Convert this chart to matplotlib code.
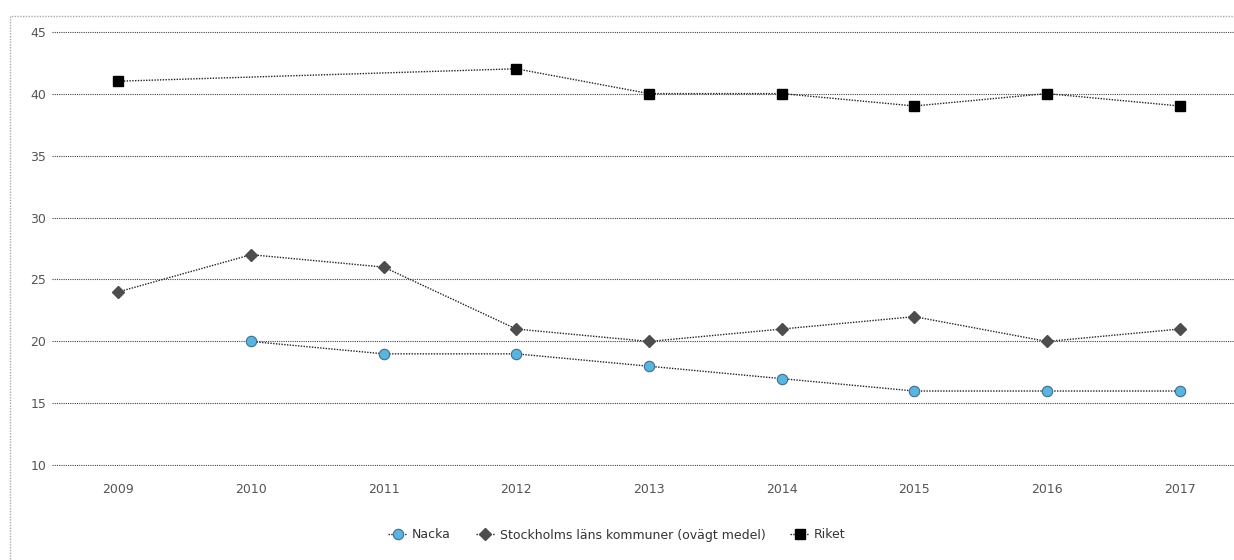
import matplotlib.pyplot as plt
from matplotlib.patches import Rectangle
import numpy as np

years = ["2009", "2010", "2011", "2012", "2013", "2014", "2015", "2016", "2017"]
nacka = [None, 20, 19, 19, 18, 17, 16, 16, 16]
stockholm = [24, 27, 26, 21, 20, 21, 22, 20, 21]
riket = [41, None, None, 42, 40, 40, 39, 40, 39]
yticks = [10, 15, 20, 25, 30, 35, 40, 45]

plt.rcParams['font.family'] = ['DejaVu Sans']

fig = plt.figure(figsize=(12.34, 5.6), dpi=100)
ax = fig.add_axes([52 / 1234, 1 - 466 / 560, 1194 / 1234, 435 / 560])

x = np.arange(len(years))


def plot_series(vals, **kw):
    xs = [i for i, v in zip(x, vals) if v is not None]
    ys = [v for v in vals if v is not None]
    return ax.plot(xs, ys, linestyle=(0, (1, 1)), color="#222222", linewidth=1, **kw)[0]


l1 = plot_series(nacka, marker="o", markersize=7.5, markerfacecolor="#5ab4e0",
                 markeredgecolor="#3d6f8c", markeredgewidth=0.8, label="Nacka")
l2 = plot_series(stockholm, marker="D", markersize=6, markerfacecolor="#4d4d4d",
                 markeredgecolor="#4d4d4d", label="Stockholms läns kommuner (ovägt medel)")
l3 = plot_series(riket, marker="s", markersize=7.5, markerfacecolor="#000000",
                 markeredgecolor="#000000", label="Riket")

ax.set_xlim(-0.5, 8.5)
ax.set_ylim(9.95, 45.05)
ax.set_yticks(yticks)
ax.set_xticks(x)
ax.set_xticklabels(years)
ax.yaxis.grid(True, linestyle=(0, (1, 1)), color="#444444", linewidth=0.8)
ax.set_axisbelow(True)
for s in ax.spines.values():
    s.set_visible(False)
ax.tick_params(length=0, labelsize=9, colors="#555555")
ax.tick_params(axis="x", pad=12)
ax.tick_params(axis="y", pad=4)

fig.legend(handles=[l1, l2, l3], loc="center", bbox_to_anchor=(0.5, 1 - 535 / 560),
           ncol=3, frameon=False, fontsize=9, handlelength=1.5, columnspacing=2.0,
           handletextpad=0.4, labelcolor="#333333")

fig.patches.append(Rectangle((10 / 1234, -0.1), 1.2, 1.1 - 16 / 560,
                             transform=fig.transFigure, fill=False,
                             edgecolor="#aaaaaa", linestyle=(0, (1, 1)), linewidth=1))

fig.savefig("out.png", dpi=100)
